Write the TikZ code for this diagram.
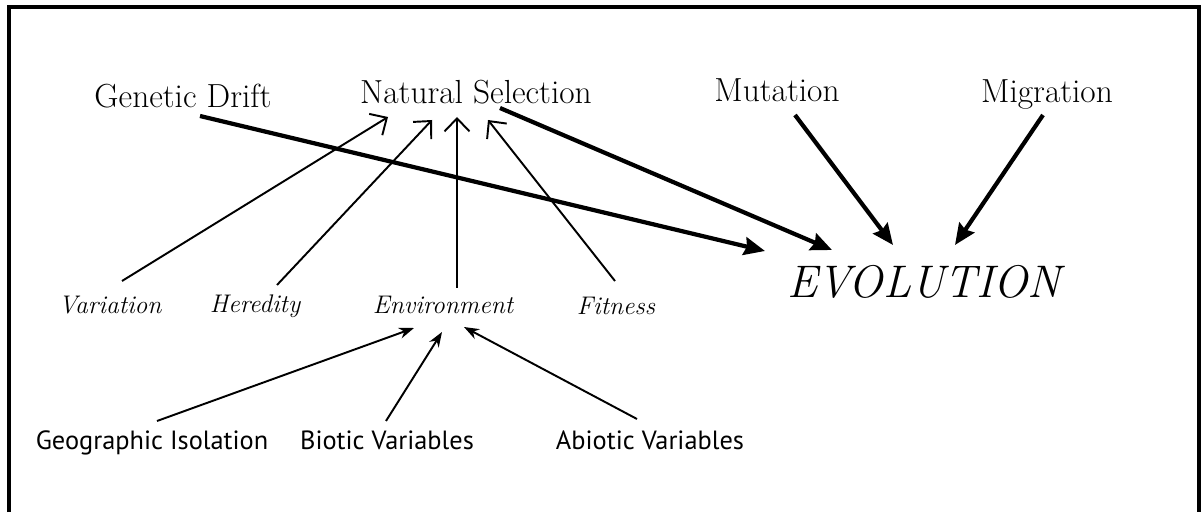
\documentclass[tikz,border=0pt]{standalone}
\usepackage{fontspec}
\newfontfamily\lowfont{PT Sans}
\usetikzlibrary{arrows.meta}

\begin{document}
\begin{tikzpicture}[
  force/.style={inner sep=0pt, font=\fontsize{19}{22}\selectfont},
  trait/.style={inner sep=0pt, font=\fontsize{14.5}{17}\selectfont\itshape},
  factor/.style={inner sep=0pt, font=\lowfont\fontsize{15}{18}\selectfont},
  result/.style={inner sep=0pt, font=\fontsize{26}{30}\selectfont\itshape},
  bigarr/.style={line width=2.4pt, -{Stealth[length=0.42cm, width=0.36cm, inset=0.05cm]}},
  barb/.style={line width=1.1pt, -{Straight Barb[length=0.26cm, width=0.5cm]}},
  smallarr/.style={line width=1.1pt, -{Stealth[length=0.3cm, width=0.22cm]}}
]
\useasboundingbox (0,0) rectangle (24.06,10.24);
\draw[line width=1.9pt] (0.18,0) -- (0.18,10.10) -- (23.98,10.10) -- (23.98,0);

\node[force] (drift) at (3.66, 8.32) {Genetic Drift};
\node[force] (natsel) at (9.52, 8.40) {Natural Selection};
\node[force] (mutation) at (15.54, 8.44) {Mutation};
\node[force] (migration) at (20.94, 8.34) {Migration};

\node[trait] (variation) at (2.20, 4.14) {Variation};
\node[trait] (heredity) at (5.10, 4.12) {Heredity};
\node[trait] (environ) at (8.86, 4.14) {Environment};
\node[trait] (fitness) at (12.32, 4.12) {Fitness};

\node[result] (evol) at (18.48, 4.60) {EVOLUTION};

\node[factor] (geo) at (3.04, 1.38) {Geographic Isolation};
\node[factor] (biotic) at (7.74, 1.44) {Biotic Variables};
\node[factor] (abiotic) at (13.00, 1.44) {Abiotic Variables};

\draw[bigarr] ([shift={(0.34,-0.40)}]drift.center) -- ([shift={(-3.18,0.62)}]evol.center);
\draw[bigarr] ([shift={(0.48,-0.32)}]natsel.center) -- ([shift={(-1.84,0.64)}]evol.center);
\draw[bigarr] ([shift={(0.36,-0.50)}]mutation.center) -- ([shift={(-0.62,0.74)}]evol.center);
\draw[bigarr] ([shift={(-0.08,-0.40)}]migration.center) -- ([shift={(0.62,0.74)}]evol.center);

\draw[barb] ([shift={(0.24,0.48)}]variation.center) -- ([shift={(-1.76,-0.50)}]natsel.center);
\draw[barb] ([shift={(0.44,0.42)}]heredity.center) -- ([shift={(-0.88,-0.56)}]natsel.center);
\draw[barb] ([shift={(0.28,0.34)}]environ.center) -- ([shift={(-0.38,-0.50)}]natsel.center);
\draw[barb] ([shift={(-0.02,0.50)}]fitness.center) -- ([shift={(0.24,-0.56)}]natsel.center);

\draw[smallarr] ([shift={(0.10,0.44)}]geo.center) -- ([shift={(-0.58,-0.46)}]environ.center);
\draw[smallarr] ([shift={(-0.02,0.38)}]biotic.center) -- ([shift={(-0.02,-0.54)}]environ.center);
\draw[smallarr] ([shift={(-0.26,0.42)}]abiotic.center) -- ([shift={(0.42,-0.44)}]environ.center);
\end{tikzpicture}
\end{document}
